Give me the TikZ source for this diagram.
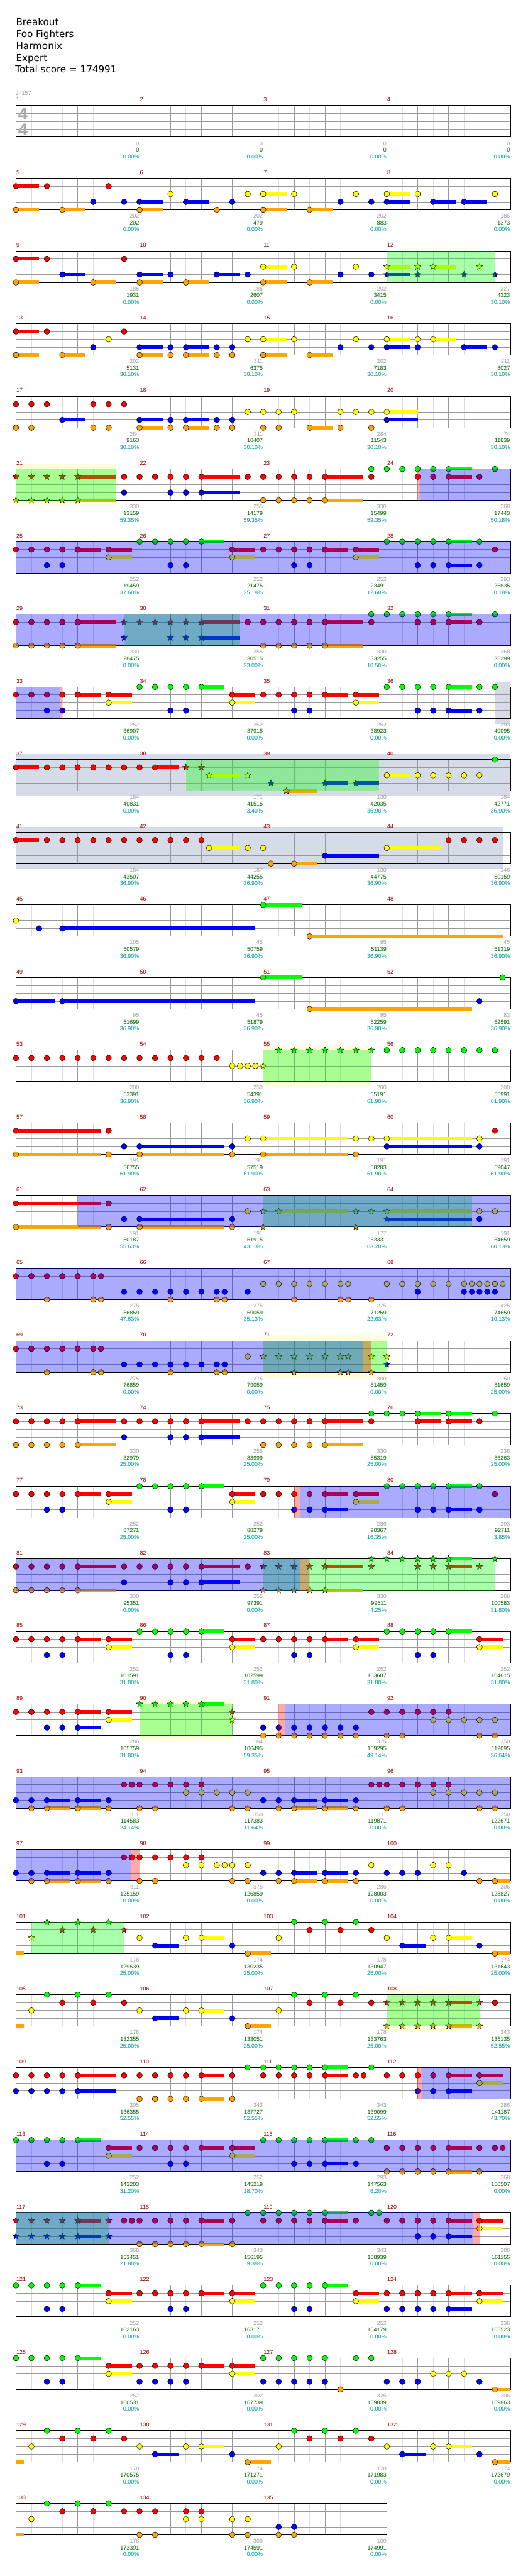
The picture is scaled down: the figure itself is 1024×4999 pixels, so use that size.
\documentclass[tikz,border=0pt]{standalone}
\usepackage{fontspec}
\setmainfont{DejaVu Sans}
\newfontfamily\libfam{Liberation Sans}
\usetikzlibrary{shapes.geometric}
\definecolor{c0}{HTML}{00FF00}
\definecolor{c1}{HTML}{FF0000}
\definecolor{c2}{HTML}{FFFF00}
\definecolor{c3}{HTML}{0000FF}
\definecolor{c4}{HTML}{FFA500}
\definecolor{mred}{HTML}{990000}
\definecolor{ngray}{HTML}{A0A0A0}
\definecolor{ngreen}{HTML}{006400}
\definecolor{nteal}{HTML}{009999}
\definecolor{ggrid}{HTML}{999999}
\definecolor{lgrid}{HTML}{DDDDDD}
\definecolor{tsig}{HTML}{AAAAAA}
\definecolor{soloyel}{HTML}{FFFFDD}
\definecolor{sologray}{HTML}{D5DBE7}
\tikzset{
  nt/.style={circle,draw=black,line width=0.6pt,minimum size=11pt,inner sep=0pt},
  st/.style={star,star points=5,star point ratio=2.3,draw=black,line width=0.6pt,minimum size=13pt,inner sep=0pt},
  mnum/.style={anchor=base west,inner sep=0pt,text=mred,font=\libfam\fontsize{11}{13}\selectfont},
  gnum/.style={anchor=base east,inner sep=0pt,text=ngray,font=\libfam\fontsize{11}{13}\selectfont},
  snum/.style={anchor=base east,inner sep=0pt,text=ngreen,font=\libfam\fontsize{11}{13}\selectfont},
  pnum/.style={anchor=base east,inner sep=0pt,text=nteal,font=\libfam\fontsize{11}{13}\selectfont},
  hdr/.style={anchor=base west,inner sep=0pt,font=\fontsize{18.5}{22}\selectfont},
  lightline/.style={draw=lgrid,line width=0.8pt},
  grayline/.style={draw=ggrid,line width=0.8pt},
  barline/.style={draw=black,line width=1pt},
  staffbox/.style={draw=black,line width=1.2pt}
}
\newcommand\noteC[3]{\foreach \p in {#3} \node[nt,fill=c#2] at ({31+30*\p},{205+141*#1+15.25*#2}) {};}
\newcommand\noteS[3]{\foreach \p in {#3} \node[st,fill=c#2] at ({31+30*\p},{205+141*#1+15.25*#2}) {};}
\newcommand\sus[3]{\foreach \p/\q in {#3} \fill[c#2] ({31+30*\p},{201.5+141*#1+15.25*#2}) rectangle ({31+30*(\p+\q)},{208.5+141*#1+15.25*#2});}
\newcommand\ovl[4]{\fill[#2,fill opacity=0.3333] ({31+30*#3},{205+141*#1}) rectangle ({31+30*#4},{266+141*#1});}
\newcommand\bgr[4]{\fill[#2] ({31+30*#3},{194.5+141*#1}) rectangle ({31+30*#4},{276.5+141*#1});}
\newcommand\staffrow[2]{%
  \pgfmathsetmacro\sT{205+141*#1}%
  \pgfmathsetmacro\sR{31+240*#2}%
  \pgfmathtruncatemacro\nE{8*#2-1}%
  \pgfmathtruncatemacro\nQ{8*#2-2}%
  \pgfmathtruncatemacro\nM{#2-1}%
  \foreach \k in {1,3,...,\nE} \draw[lightline] ({31+30*\k},{\sT}) -- ++(0,61);
  \foreach \l in {1,2,3} \draw[grayline] (31,{\sT+15.25*\l}) -- ({\sR},{\sT+15.25*\l});
  \foreach \k in {2,4,...,\nQ} \draw[grayline] ({31+30*\k},{\sT}) -- ++(0,61);
  \foreach \k in {1,...,\nM} \draw[barline] ({31+240*\k},{\sT}) -- ++(0,61);
  \draw[staffbox] (31,{\sT}) rectangle ({\sR},{\sT+61});
}
\newcommand\mnums[4]{%
  \pgfmathtruncatemacro\mR{(#1-1)/4}%
  \pgfmathtruncatemacro\mC{#1-1-4*\mR}%
  \pgfmathsetmacro\mXa{31+240*\mC}%
  \pgfmathsetmacro\mXb{271+240*\mC}%
  \pgfmathsetmacro\mT{205+141*\mR}%
  \node[mnum] at ({\mXa+0.6},{\mT-7.5}) {#1};
  \node[gnum] at ({\mXb-0.5},{\mT+77}) {#2};
  \node[snum] at ({\mXb-0.5},{\mT+90}) {#3};
  \node[pnum] at ({\mXb-0.5},{\mT+103}) {#4\%};
}
\begin{document}
\begin{tikzpicture}[x=1pt,y=-1pt]
\useasboundingbox (0,0) rectangle (1024,4999);
\fill[white] (0,0) rectangle (1024,4999);
% header
\node[hdr] (title) at (31,49.5) {Breakout};
\node[hdr] (artist) at (31,72.5) {Foo Fighters};
\node[hdr] (charter) at (31,95.5) {Harmonix};
\node[hdr] (diff) at (31,118.5) {Expert};
\node[hdr] (total) at (29.5,141.5) {Total score = 174991};
\node[anchor=base west,inner sep=0pt,text=ngray,font=\fontsize{11}{13}\selectfont] (tempo) at (30.5,185) {♩\libfam=157};
% backgrounds (solo sections)
\bgr{5}{soloyel}{0}{6.5}
\bgr{13}{soloyel}{16}{23}
\bgr{17}{soloyel}{16}{24}
\bgr{22}{soloyel}{8}{14}
\bgr{26}{soloyel}{24}{30}
\bgr{8}{sologray}{31}{32}
\bgr{9}{sologray}{0}{32}
\bgr{10}{sologray}{0}{31.5}
% staffs
\foreach \r in {0,...,32} {\staffrow{\r}{4}}
\staffrow{33}{3}
\node[anchor=base,inner sep=0pt,text=tsig,font=\libfam\bfseries\fontsize{33}{33}\selectfont] (tsa) at (44.5,232.3) {4};
\node[anchor=base,inner sep=0pt,text=tsig,font=\libfam\bfseries\fontsize{33}{33}\selectfont] (tsb) at (44.5,263.3) {4};
% row 1
\sus{1}{1}{0/1.5}\noteC{1}{1}{0,2,6}
\sus{1}{2}{16/1.5,24/1.5}\noteC{1}{2}{10,15,16,18,22,24,26,31}
\sus{1}{3}{8/1.5,11/1.5,24/1.5,27/1.5,29/1.5}\noteC{1}{3}{5,7,8,11,14,21,23,24,27,29}
\sus{1}{4}{0/1.5,3/1.5,8/1.5,16/1.5,19/1.5}\noteC{1}{4}{0,3,8,13,16,19}
% row 2
\sus{2}{1}{0/1.5}\noteC{2}{1}{0,2,7}
\sus{2}{2}{16/1.5,24/1.5,27/1.5}\noteC{2}{2}{16,18,22}\noteS{2}{2}{24,26,27,30}
\sus{2}{3}{3/1.5,8/1.5,13/1.5,24/1.5}\noteC{2}{3}{3,8,10,13,15,21,23}\noteS{2}{3}{24,26,29,31}
\sus{2}{4}{0/1.5,5/1.5,8/1.5,11/1.5,16/1.5,19/1.5}\noteC{2}{4}{0,5,8,11,16,19}
% row 3
\sus{3}{1}{0/1.5}\noteC{3}{1}{0,2,7}
\sus{3}{2}{16/1.5,24/1.5,27/1.5}\noteC{3}{2}{6,15,16,18,22,24,26,27}
\sus{3}{3}{8/1.5,11/1.5,24/1.5,29/1.5}\noteC{3}{3}{5,8,10,11,13,14,21,23,24,26,29,31}
\sus{3}{4}{0/1.5,3/1.5,8/1.5,11/1.5,16/1.5,19/1.5}\noteC{3}{4}{0,3,8,10,11,13,14,16,19}
% row 4
\noteC{4}{1}{0,1,2,5,6,7}
\sus{4}{2}{24/2}\noteC{4}{2}{15,16,17,18,21,22,23,24}
\sus{4}{3}{3/1.5,8/1.5,11/1.5,24/2}\noteC{4}{3}{3,8,10,11,13,14,24}
\sus{4}{4}{8/1.5,11/1.5,19/1.5}\noteC{4}{4}{0,1,5,6,8,10,11,13,14,16,17,19,21,23}
% row 5
\sus{5}{1}{4/2.5,12/2.5,20/2.5,28/1.5}\noteS{5}{1}{0,1,2,3,4}\noteC{5}{1}{7,8,9,10,11,12,15,16,17,18,19,20,23,26,27,28,30}
\sus{5}{4}{4/2.5,20/2.5}\noteS{5}{4}{0,1,2,3,4}\noteC{5}{4}{16,17,18,19,20}
\sus{5}{3}{12/2.5}\noteC{5}{3}{7,10,11,12}
\sus{5}{0}{28/1.5}\noteC{5}{0}{23,24,25,26,27,28,31}
% row 6
\sus{6}{0}{12/1.5,28/1.5}\noteC{6}{0}{8,9,10,11,12,24,25,26,27,28,30}
\sus{6}{1}{4/1.5,6/1.5,14/1.5,20/1.5,22/1.5}\noteC{6}{1}{0,1,2,3,4,6,14,16,17,18,19,20,22,31}
\sus{6}{2}{6/1.5,14/1.5,22/1.5}\noteC{6}{2}{6,14,22}
\sus{6}{3}{28/1.5}\noteC{6}{3}{2,3,10,11,18,19,26,27,28,30}
% row 7
\sus{7}{1}{4/2.5,12/2.5,20/2.5,28/1.5}\noteC{7}{1}{0,1,2,3,4,15,16,17,18,19,20,23,26,27,28,30}\noteS{7}{1}{7,8,9,10,11,12}
\sus{7}{3}{12/2.5}\noteS{7}{3}{7,10,11,12}
\sus{7}{4}{4/2.5,20/2.5}\noteC{7}{4}{0,1,2,3,4,16,17,18,19,20}
\sus{7}{0}{28/1.5}\noteC{7}{0}{23,24,25,26,27,28,31}
% row 8
\sus{8}{1}{4/1.5,6/1.5,14/1.5,20/1.5,22/1.5}\noteC{8}{1}{0,1,2,3,4,6,14,16,17,18,19,20,22}
\sus{8}{2}{6/1.5,14/1.5,22/1.5}\noteC{8}{2}{6,14,22}
\sus{8}{3}{28/1.5}\noteC{8}{3}{2,3,10,11,18,19,26,27,28,30}
\sus{8}{0}{12/1.5,28/1.5}\noteC{8}{0}{8,9,10,11,12,24,25,26,27,28,30,31}
% row 9
\sus{9}{1}{0/1.5,9/1.5}\noteC{9}{1}{0,2,3,4,5,6,7,8,9}\noteS{9}{1}{11,12}
\sus{9}{2}{12.5/2,24/1.5}\noteS{9}{2}{12.5,15}\noteC{9}{2}{24,26,27,28,29,30}
\sus{9}{3}{20/1.5,22/1.5}\noteS{9}{3}{16.5,20,22}
\sus{9}{4}{17.5/2}\noteS{9}{4}{17.5}
\noteC{9}{0}{31}
% row 10
\sus{10}{1}{0/1.5}\noteC{10}{1}{0,2,3,4,5,6,7,8,9,10,11,12,28,29,30,31}
\sus{10}{2}{12.5/2,24/3.5}\noteC{10}{2}{12.5,15,16,24}
\sus{10}{4}{18/1.5}\noteC{10}{4}{16.5,18}
\sus{10}{3}{20/3.5}\noteC{10}{3}{20}
% row 11
\noteC{11}{2}{0}
\sus{11}{3}{3/12.5}\noteC{11}{3}{1.5,3}
\sus{11}{0}{16/2.5}\noteC{11}{0}{16}
\sus{11}{4}{19/12.5}\noteC{11}{4}{19}
% row 12
\sus{12}{3}{0/2.5,3/12.5}\noteC{12}{3}{0,3,30}
\sus{12}{0}{16/2.5}\noteC{12}{0}{16,31.5}
\sus{12}{4}{19/10.5}\noteC{12}{4}{19}
% row 13
\noteC{13}{1}{0,1,2,3,4,5,6,7,8,9,10,11,12,13}
\noteC{13}{2}{14,14.5,15,15.5}\noteS{13}{2}{16}
\noteS{13}{0}{17,18,19,20,21,22,23}
\noteC{13}{0}{24,25,26,27,28,29,30,31}
% row 14
\sus{14}{1}{0/5.5}\noteC{14}{1}{0,6,31}
\sus{14}{4}{0/5.5,8/5.5,16/5.5}\noteC{14}{4}{0,6,8,14,16,22}
\sus{14}{3}{8/5.5,24/5.5}\noteC{14}{3}{7,8,14,24,30}
\sus{14}{2}{16/5.5,24/5.5}\noteC{14}{2}{15,16,22,23,24,30}
% row 15
\sus{15}{1}{0/5.5}\noteC{15}{1}{0,6}
\sus{15}{4}{0/5.5,8/5.5}\noteC{15}{4}{0,6,8,14}\noteS{15}{4}{16,22}
\sus{15}{3}{8/5.5,24/5.5}\noteC{15}{3}{7,8,14,30}\noteS{15}{3}{24}
\sus{15}{2}{17/4.5,24/5.5}\noteC{15}{2}{15,30,31}\noteS{15}{2}{16,17,22,23,24}
% row 16
\noteC{16}{1}{0,1,2,3,4,5,5.5}
\noteC{16}{3}{7,8,9,10,11,12,13,13.5,15,26,29,29.5,30,30.5,31}
\noteC{16}{4}{2,5,5.5,10,13,13.5,18,21,21.5,23}
\noteC{16}{2}{16,17,18,19,20,21,21.5,24,25,26,27,28,29,29.5,30,30.5,31,31.5}
% row 17
\noteC{17}{1}{0,1,2,3,4,5,5.5}
\noteC{17}{3}{7,8,9,10,11,12,13,13.5}\noteS{17}{3}{24}
\noteC{17}{4}{2,5,5.5,10,13,13.5}\noteS{17}{4}{18,21,21.5,23}
\noteC{17}{2}{15}\noteS{17}{2}{16,17,18,19,20,21,21.5,23,24}
% row 18
\sus{18}{1}{4/2.5,12/2.5,20/2.5,26/1.5,28/1.5}\noteC{18}{1}{0,1,2,3,4,7,8,9,10,11,12,15,16,17,18,19,20,23,26,28,30}
\sus{18}{4}{4/2.5,20/2.5}\noteC{18}{4}{0,1,2,3,4,16,17,18,19,20}
\sus{18}{3}{12/2.5}\noteC{18}{3}{7,10,11,12}
\sus{18}{0}{26/1.5,28/1.5}\noteC{18}{0}{23,24,25,26,28,31}
% row 19
\sus{19}{1}{4/1.5,6/1.5,14/1.5,20/1.5,22/1.5}\noteC{19}{1}{0,1,2,3,4,6,14,16,17,18,19,20,22,31}
\sus{19}{2}{6/1.5,14/1.5,22/1.5}\noteC{19}{2}{6,14,22}
\sus{19}{3}{20/1.5,28/1.5}\noteC{19}{3}{2,3,10,11,18,19,20,26,27,28,30}
\sus{19}{0}{12/1.5,28/1.5}\noteC{19}{0}{8,9,10,11,12,24,25,26,27,28,30}
% row 20
\sus{20}{1}{4/2.5,12/2.5,20/2.5,28/1.5}\noteC{20}{1}{0,1,2,3,4,7,8,9,10,11,12,15}\noteS{20}{1}{16,17,18,19,20,23,26,27,28,30}
\sus{20}{0}{28/1.5}\noteS{20}{0}{23,24,25,26,27,28,31}
\sus{20}{3}{12/2.5}\noteC{20}{3}{7,10,11,12}
\sus{20}{4}{4/2.5,20/2.5}\noteC{20}{4}{0,1,2,3,4}\noteS{20}{4}{16,17,18,19,20}
% row 21
\sus{21}{1}{4/1.5,6/1.5,14/1.5,20/1.5,22/1.5,30/1.5}\noteC{21}{1}{0,1,2,3,4,6,14,16,17,18,19,20,22,30}
\sus{21}{2}{6/1.5,14/1.5,22/1.5,30/1.5}\noteC{21}{2}{6,14,22,30}
\noteC{21}{3}{2,3,10,11,18,19,26,27}
\sus{21}{0}{12/1.5,28/1.5}\noteC{21}{0}{8,9,10,11,12,24,25,26,27,28}
% row 22
\sus{22}{1}{4/1.5,6/1.5}\noteC{22}{1}{0,1,2,3,4,6,23,24,25,26,27,28}\noteS{22}{1}{14}
\sus{22}{2}{6/1.5}\noteC{22}{2}{6,27,28,29,30,31}\noteS{22}{2}{14}
\sus{22}{3}{4/1.5}\noteC{22}{3}{2,3,4,16,17,18,19,20,21,22}
\sus{22}{0}{12/1.5}\noteS{22}{0}{8,9,10,11,12}
\noteC{22}{4}{16,17,18,19,20,21,22,24,25,30,31}
% row 23
\noteC{23}{1}{7,7.5,8,9,10,11,12,23,23.5,24,25,26,27,28}
\noteC{23}{2}{11,12,13,14,15,27,28,29,30,31}
\sus{23}{3}{2/1.5,4/1.5,18/1.5,20/1.5}\noteC{23}{3}{0,1,2,4,6,16,17,18,20,22}
\sus{23}{4}{2/1.5,4/1.5,18/1.5,20/1.5}\noteC{23}{4}{1,2,4,6,8,9,14,15,17,18,20,22,24,25,30,31}
% row 24
\noteC{24}{1}{7,7.5,8,9,10,11,12}
\noteC{24}{2}{11,12,13,13.5,14,15,23,27,28}
\sus{24}{3}{2/1.5,4/1.5,18/1.5,20/1.5}\noteC{24}{3}{0,1,2,4,6,16,17,18,20,22,24,25,26,29}
\sus{24}{4}{2/1.5,4/1.5,18/1.5,20/1.5,31/1}\noteC{24}{4}{1,2,4,6,8,9,14,15,17,18,20,22,30,31}
% row 25
\sus{25}{4}{0/0.5,15/1.5,31/1}\noteC{25}{4}{15,31}
\noteS{25}{2}{1}\noteS{25}{0}{2,4,6}\noteS{25}{1}{3,5,7}
\sus{25}{2}{12/1.5,28/1.5}\noteC{25}{2}{8,11,12,17,24,27,28}
\sus{25}{3}{9/1.5,25/1.5}\noteC{25}{3}{9,14,25,30}
\noteC{25}{0}{18,20,22}\noteC{25}{1}{19,21,23}
% row 26
\sus{26}{4}{0/0.5,15/1.5,28/1.5}\noteC{26}{4}{15}\noteS{26}{4}{24,25,26,27,28,30}
\sus{26}{2}{12/1.5}\noteC{26}{2}{1,8,11,12,17}
\noteC{26}{0}{2,4,6,18,20,22}
\sus{26}{1}{28/1.5}\noteC{26}{1}{3,5,7,19,21,23,31}\noteS{26}{1}{24,25,26,27,28,30}
\sus{26}{3}{9/1.5}\noteC{26}{3}{9,14}
% row 27
\sus{27}{1}{4/2.5,12/1.5,20/1.5,28/1.5,30/1.5}\noteC{27}{1}{0,1,2,3,4,7,8,9,10,11,12,14,16,17,18,19,20,22,22.5,24,25,26,27,28,30}
\sus{27}{3}{4/2.5,28/1.5}\noteC{27}{3}{0,1,2,3,4,26,27,28}
\sus{27}{4}{12/1.5}\noteC{27}{4}{8,9,10,11,12,14}
\sus{27}{0}{20/1.5}\noteC{27}{0}{15,16,17,18,19,20,23}
\sus{27}{2}{30/1.5}\noteC{27}{2}{30}
% row 28
\sus{28}{0}{4/1.5,20/1.5}\noteC{28}{0}{0,1,2,3,4,16,17,18,19,20,22,23}
\sus{28}{1}{6/1.5,12/1.5,14/1.5,28/1.5}\noteC{28}{1}{6,8,9,10,11,12,14,24,25,26,27,28,30,31,31.5}
\sus{28}{2}{6/1.5,14/1.5}\noteC{28}{2}{6,14}
\sus{28}{3}{20/1.5}\noteC{28}{3}{2,3,10,11,18,19,20,22}
\sus{28}{4}{28/1.5}\noteC{28}{4}{24,25,26,27,28,30}
% row 29
\sus{29}{1}{4/1.5,12/1.5,20/1.5,28/1.5,30/1.5}\noteS{29}{1}{0,1,2,3,4,6}\noteC{29}{1}{7,7.5,8,9,10,11,12,14,16,17,18,19,20,22,24,25,26,27,28,30}
\sus{29}{3}{4/1.5,28/1.5}\noteS{29}{3}{0,1,2,3,4,6}\noteC{29}{3}{26,27,28}
\sus{29}{4}{12/1.5}\noteC{29}{4}{8,9,10,11,12,14}
\sus{29}{0}{20/1.5}\noteC{29}{0}{15,16,17,18,19,20,23,23.5}
\sus{29}{2}{30/1.5}\noteC{29}{2}{30}
% row 30
\sus{30}{0}{4/1.5,20/1.5}\noteC{30}{0}{0,1,2,3,4,16,17,18,19,20}
\sus{30}{1}{6/1.5,12/1.5,14/1.5,22/1.5,28/1.5,30/1.5}\noteC{30}{1}{6,8,9,10,11,12,14,22,24,25,26,27,28,30}
\sus{30}{2}{6/1.5,14/1.5,22/1.5,30/1.5}\noteC{30}{2}{6,14,22,30}
\sus{30}{3}{28/1.5}\noteC{30}{3}{2,3,10,11,18,19,24,25,26,27,28}
% row 31
\sus{31}{0}{4/1.5}\noteC{31}{0}{0,1,2,3,4,16,17,18,19,20,22,23}
\sus{31}{1}{6/1.5,12/1.5,14/1.5}\noteC{31}{1}{6,8,9,10,11,12,14}
\sus{31}{2}{6/1.5,14/1.5}\noteC{31}{2}{6,14,27,28,29}
\noteC{31}{3}{2,3,8,9,10,11,16,17,18,19,20,24,25,26,30}
\sus{31}{4}{31/1}\noteC{31}{4}{21,31}
% row 32
\sus{32}{4}{0/0.5,15/1.5,31/1}\noteC{32}{4}{15,31}
\sus{32}{2}{12/1.5,28/1.5}\noteC{32}{2}{1,8,11,12,17,24,27,28}
\noteC{32}{0}{2,4,6,18,20,22}
\noteC{32}{1}{3,5,7,19,21,23}
\sus{32}{3}{9/1.5,25/1.5}\noteC{32}{3}{9,14,25,30}
% row 33
\sus{33}{4}{0/0.5}\noteC{33}{4}{8,9,14,15,17,18}
\noteC{33}{2}{1,11,12,14,15}
\noteC{33}{0}{2,4,6}
\noteC{33}{1}{3,5,7,8,9,11,12}
\noteC{33}{3}{17,18}
% overlays: star power phrases (green)
\ovl{2}{c0}{24}{31}
\ovl{5}{c0}{0}{6.5}
\ovl{7}{c0}{7}{14.5}
\ovl{9}{c0}{11}{23.5}
\ovl{13}{c0}{16}{23}
\ovl{15}{c0}{16}{29.5}
\ovl{17}{c0}{16}{24}
\ovl{20}{c0}{16}{31}
\ovl{22}{c0}{8}{14}
\ovl{25}{c0}{1}{7}
\ovl{26}{c0}{24}{30}
\ovl{29}{c0}{0}{6}
% overlays: overdrive active (blue)
\ovl{5}{c3}{26.13}{32}
\ovl{6}{c3}{0}{32}
\ovl{7}{c3}{0}{32}
\ovl{8}{c3}{0}{2.85}
\ovl{15}{c3}{4}{32}
\ovl{16}{c3}{0}{32}
\ovl{17}{c3}{0}{22.45}
\ovl{19}{c3}{18.4}{32}
\ovl{20}{c3}{0}{18.43}
\ovl{22}{c3}{17.45}{32}
\ovl{23}{c3}{0}{32}
\ovl{24}{c3}{0}{7.45}
\ovl{27}{c3}{26.3}{32}
\ovl{28}{c3}{0}{32}
\ovl{29}{c3}{0}{29.57}
% overlays: activation marks (red)
\ovl{5}{c1}{26}{26.13}
\ovl{8}{c1}{2.85}{3}
\ovl{17}{c1}{22.45}{23}
\ovl{19}{c1}{18}{18.4}
\ovl{20}{c1}{18.43}{19}
\ovl{22}{c1}{17}{17.45}
\ovl{24}{c1}{7.45}{8}
\ovl{27}{c1}{25.95}{26.3}
\ovl{29}{c1}{29.57}{30}
% measure numbers and scores
\foreach \m/\g/\s/\pc in {1/0/0/0.00,2/0/0/0.00,3/0/0/0.00,4/0/0/0.00,
5/202/202/0.00,6/202/479/0.00,7/202/883/0.00,8/186/1373/0.00,
9/186/1931/0.00,10/186/2607/0.00,11/202/3415/0.00,12/227/4323/30.10,
13/202/5131/30.10,14/311/6375/30.10,15/202/7183/30.10,16/211/8027/30.10,
17/284/9163/30.10,18/311/10407/30.10,19/284/11543/30.10,20/74/11839/30.10,
21/330/13159/59.35,22/255/14179/59.35,23/330/15499/59.35,24/268/17443/50.18,
25/252/19459/37.68,26/252/21475/25.18,27/252/23491/12.68,28/293/25835/0.18,
29/330/28475/0.00,30/255/30515/23.00,31/330/33255/10.50,32/268/35299/0.00,
33/252/36907/0.00,34/252/37915/0.00,35/252/38923/0.00,36/293/40095/0.00,
37/184/40831/0.00,38/171/41515/3.40,39/130/42035/36.90,40/184/42771/36.90,
41/184/43507/36.90,42/187/44255/36.90,43/130/44775/36.90,44/146/50159/36.90,
45/105/50579/36.90,46/45/50759/36.90,47/95/51139/36.90,48/45/51319/36.90,
49/95/51699/36.90,50/45/51879/36.90,51/95/52259/36.90,52/83/52591/36.90,
53/200/53391/36.90,54/250/54391/36.90,55/200/55191/61.90,56/200/55991/61.90,
57/191/56755/61.90,58/191/57519/61.90,59/191/58283/61.90,60/191/59047/61.90,
61/191/60187/55.63,62/191/61915/43.13,63/177/63331/63.28,64/191/64659/60.13,
65/275/66859/47.63,66/275/69059/35.13,67/275/71259/22.63,68/425/74659/10.13,
69/275/76859/0.00,70/275/79059/0.00,71/300/81459/0.00,72/50/81659/25.00,
73/330/82979/25.00,74/255/83999/25.00,75/330/85319/25.00,76/236/86263/25.00,
77/252/87271/25.00,78/252/88279/25.00,79/286/90367/16.35,80/293/92711/3.85,
81/330/95351/0.00,82/255/97391/0.00,83/330/99511/4.25,84/268/100583/31.80,
85/252/101591/31.80,86/252/102599/31.80,87/252/103607/31.80,88/252/104615/31.80,
89/286/105759/31.80,90/184/106495/59.35,91/375/109295/49.14,92/350/112095/36.64,
93/311/114583/24.14,94/350/117383/11.64,95/311/119871/0.00,96/350/122671/0.00,
97/311/125159/0.00,98/375/126859/0.00,99/286/128003/0.00,100/206/128827/0.00,
101/178/129539/25.00,102/174/130235/25.00,103/178/130947/25.00,104/174/131643/25.00,
105/178/132355/25.00,106/174/133051/25.00,107/178/133763/25.00,108/343/135135/52.55,
109/305/136355/52.55,110/343/137727/52.55,111/343/139099/52.55,112/286/141187/43.70,
113/252/143203/31.20,114/252/145219/18.70,115/293/147563/6.20,116/368/150507/0.00,
117/368/153451/21.88,118/343/156195/9.38,119/343/158939/0.00,120/286/161155/0.00,
121/252/162163/0.00,122/252/163171/0.00,123/252/164179/0.00,124/336/165523/0.00,
125/252/166531/0.00,126/302/167739/0.00,127/325/169039/0.00,128/206/169863/0.00,
129/178/170575/0.00,130/174/171271/0.00,131/178/171983/0.00,132/174/172679/0.00,
133/178/173391/0.00,134/300/174591/0.00,135/100/174991/0.00}
{\mnums{\m}{\g}{\s}{\pc}}
\end{tikzpicture}
\end{document}
